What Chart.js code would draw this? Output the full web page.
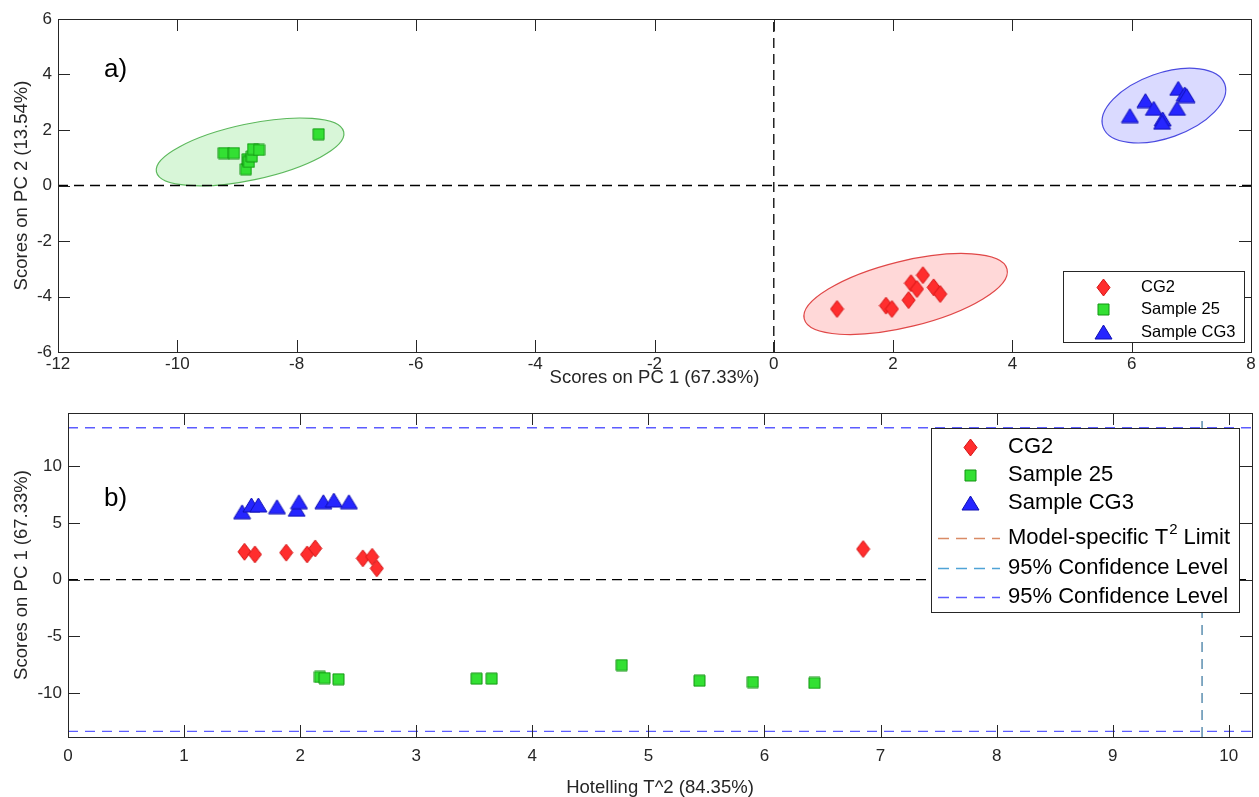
<!DOCTYPE html>
<html>
<head>
<meta charset="utf-8">
<script src="https://cdn.jsdelivr.net/npm/chart.js@4.4.0/dist/chart.umd.min.js"></script>
<style>
  body { margin: 0; background: #fff; width: 1259px; height: 797px; overflow: hidden; position: relative; }
  canvas { position: absolute; left: 0; }
  #scores-chart { top: 0; }
  #hotelling-chart { top: 392px; }
  .tag { position: absolute; font-family: "Liberation Sans", Arial, sans-serif; font-size: 26px; color: #000; line-height: 30px; }
</style>
</head>
<body>
<canvas id="scores-chart" width="1259" height="392"></canvas>
<canvas id="hotelling-chart" width="1259" height="405"></canvas>
<div class="tag" style="left:104px;top:53px">a)</div>
<div class="tag" style="left:104px;top:482px">b)</div>
<script>
// Panel a: scores on PC1 / PC2
var cg2PC1 = [1.06, 1.88, 1.98, 2.26, 2.30, 2.40, 2.50, 2.68, 2.79];
var cg2PC2 = [-4.45, -4.33, -4.45, -4.13, -3.52, -3.73, -3.23, -3.67, -3.91];
var s25PC1 = [-9.22, -9.05, -8.85, -8.82, -8.80, -8.75, -8.73, -8.63, -7.63];
var s25PC2 = [1.17, 1.17, 0.59, 0.95, 0.85, 1.05, 1.31, 1.28, 1.85];
var cg3PC1 = [5.97, 6.23, 6.37, 6.52, 6.51, 6.76, 6.78, 6.89, 6.92];
var cg3PC2 = [2.52, 3.06, 2.78, 2.40, 2.28, 2.78, 3.50, 3.30, 3.24];

// confidence ellipses (centre, half axis vectors in data units): CG2, Sample 25, CG3
var ellipseCentres = [[2.21, -3.91], [-8.78, 1.21], [6.54, 2.88]];
var ellipseMajor = [[1.70, 0.90], [1.57, 0.72], [1.02, 0.775]];
var ellipseMinor = [[-0.133, 1.15], [-0.098, 0.987], [-0.181, 1.10]];

// Panel b: Hotelling T^2 vs scores on PC1
var cg2T2 = [1.52, 1.61, 1.88, 2.06, 2.13, 2.54, 2.62, 2.66, 6.85];
var cg2Score = [2.45, 2.22, 2.37, 2.22, 2.75, 1.87, 2.01, 0.99, 2.69];
var s25T2 = [2.17, 2.21, 2.33, 3.52, 3.65, 4.77, 5.44, 5.90, 6.43];
var s25Score = [-8.6, -8.7, -8.8, -8.75, -8.75, -7.55, -8.93, -9.05, -9.13];
var cg3T2 = [1.50, 1.58, 1.64, 1.80, 1.97, 1.99, 2.20, 2.29, 2.42];
var cg3Score = [5.98, 6.58, 6.58, 6.43, 6.20, 6.87, 6.87, 7.02, 6.87];
var t2Limit = 9.77;
var confLevel = 13.4;

// axes
var pc1Range = [-12, 8];
var pc2Range = [-6, 6];
var t2Range = [0, 10.2];
var scoreRange = [-13.9, 14.7];
var pc1Ticks = [-12, -10, -8, -6, -4, -2, 0, 2, 4, 6, 8];
var pc2Ticks = [-6, -4, -2, 0, 2, 4, 6];
var t2Ticks = [0, 1, 2, 3, 4, 5, 6, 7, 8, 9, 10];
var scoreTicks = [-10, -5, 0, 5, 10];

var FONT = '"Liberation Sans", Arial, sans-serif';
var AXIS = '#262626';

function makeMarker(shape, w, h, fill, edge) {
  var c = document.createElement('canvas');
  c.width = w + 2;
  c.height = h + 2;
  var g = c.getContext('2d');
  var cx = c.width / 2, cy = c.height / 2;
  g.beginPath();
  if (shape === 'diamond') {
    g.moveTo(cx, 1); g.lineTo(c.width - 1, cy); g.lineTo(cx, c.height - 1); g.lineTo(1, cy);
  } else if (shape === 'square') {
    g.rect(1, 1, w, h);
  } else {
    g.moveTo(cx, 1); g.lineTo(c.width - 1, c.height - 1); g.lineTo(1, c.height - 1);
  }
  g.closePath();
  g.fillStyle = fill;
  g.fill();
  g.lineWidth = 1;
  g.strokeStyle = edge;
  g.stroke();
  return c;
}

var diamond = makeMarker('diamond', 13, 17, '#ff2e2e', '#d41414');
var square = makeMarker('square', 11, 11, '#33e033', '#139513');
var triangle = makeMarker('triangle', 17, 14, '#2626ff', '#1010b4');

function points(xs, ys) {
  return xs.map(function (x, i) { return {x: x, y: ys[i]}; });
}

function group(label, xs, ys, marker) {
  return {label: label, data: points(xs, ys), pointStyle: marker, pointRadius: 6, pointHoverRadius: 6,
    showLine: false, order: 0};
}

function refLine(label, a, b, color, dash, order) {
  return {label: label, data: [a, b], showLine: true, borderColor: color, borderWidth: 1.3,
    borderDash: dash || [10, 6], pointRadius: 0, pointHoverRadius: 0, fill: false, order: order || 1};
}

// draws the box round the axes with inward ticks on all four sides
var framePlugin = {
  id: 'frame',
  afterDatasetsDraw: function (chart) {
    var ctx = chart.ctx, a = chart.chartArea;
    var xs = chart.scales.x, ys = chart.scales.y, tl = 12;
    ctx.save();
    ctx.strokeStyle = AXIS;
    ctx.lineWidth = 1;
    ctx.beginPath();
    xs.ticks.forEach(function (t) {
      var px = Math.round(xs.getPixelForValue(t.value)) + 0.5;
      ctx.moveTo(px, a.bottom); ctx.lineTo(px, a.bottom - tl);
      ctx.moveTo(px, a.top); ctx.lineTo(px, a.top + tl);
    });
    ys.ticks.forEach(function (t) {
      var py = Math.round(ys.getPixelForValue(t.value)) + 0.5;
      ctx.moveTo(a.left, py); ctx.lineTo(a.left + tl, py);
      ctx.moveTo(a.right, py); ctx.lineTo(a.right - tl, py);
    });
    ctx.stroke();
    ctx.strokeRect(Math.round(a.left) + 0.5, Math.round(a.top) + 0.5, Math.round(a.right - a.left), Math.round(a.bottom - a.top));
    ctx.restore();
  }
};

var ellipsePlugin = {
  id: 'ellipses',
  beforeDatasetsDraw: function (chart, args, opts) {
    if (!opts.items) return;
    var ctx = chart.ctx, xs = chart.scales.x, ys = chart.scales.y;
    opts.items.forEach(function (e) {
      var cx = xs.getPixelForValue(e.centre[0]), cy = ys.getPixelForValue(e.centre[1]);
      var ax = xs.getPixelForValue(e.centre[0] + e.major[0]) - cx;
      var ay = ys.getPixelForValue(e.centre[1] + e.major[1]) - cy;
      var bx = xs.getPixelForValue(e.centre[0] + e.minor[0]) - cx;
      var by = ys.getPixelForValue(e.centre[1] + e.minor[1]) - cy;
      ctx.save();
      ctx.beginPath();
      ctx.save();
      ctx.transform(ax, ay, bx, by, cx, cy);
      ctx.arc(0, 0, 1, 0, Math.PI * 2);
      ctx.restore();
      ctx.fillStyle = e.fill;
      ctx.fill();
      ctx.lineWidth = 1.2;
      ctx.strokeStyle = e.edge;
      ctx.stroke();
      ctx.restore();
    });
  }
};

// matlab style legend box inside the axes
var boxLegendPlugin = {
  id: 'boxLegend',
  afterDraw: function (chart, args, o) {
    if (!o.rows) return;
    var ctx = chart.ctx;
    ctx.save();
    ctx.fillStyle = '#fff';
    ctx.fillRect(o.left, o.top, o.width, o.height);
    ctx.strokeStyle = AXIS;
    ctx.lineWidth = 1;
    ctx.strokeRect(o.left + 0.5, o.top + 0.5, o.width, o.height);
    ctx.textBaseline = 'middle';
    var row = 0;
    chart.data.datasets.forEach(function (ds) {
      if (!ds.label) return;
      var y = o.top + o.rows[row++];
      if (ds.showLine) {
        ctx.beginPath();
        ctx.setLineDash([11, 7]);
        ctx.strokeStyle = ds.borderColor;
        ctx.lineWidth = 1.3;
        ctx.moveTo(o.lineX[0], y + 0.5);
        ctx.lineTo(o.lineX[1], y + 0.5);
        ctx.stroke();
        ctx.setLineDash([]);
      } else {
        var m = ds.pointStyle;
        ctx.drawImage(m, Math.round(o.markerX - m.width / 2), Math.round(y - m.height / 2));
      }
      ctx.fillStyle = '#000';
      var parts = ds.label.split('\u00b2');
      var x = o.textX;
      ctx.font = o.fontSize + 'px ' + FONT;
      ctx.textAlign = 'left';
      ctx.fillText(parts[0], x, y);
      if (parts.length > 1) {
        x += ctx.measureText(parts[0]).width;
        ctx.font = Math.round(o.fontSize * 0.7) + 'px ' + FONT;
        ctx.fillText('2', x + 1, y - o.fontSize * 0.38);
        x += ctx.measureText('2').width + 1;
        ctx.font = o.fontSize + 'px ' + FONT;
        ctx.fillText(parts[1], x, y);
      }
    });
    ctx.restore();
  }
};

function axis(range, tickValues, title, fit, tickPad, titlePad) {
  return {
    type: 'linear',
    min: range[0],
    max: range[1],
    afterBuildTicks: function (s) { s.ticks = tickValues.map(function (v) { return {value: v}; }); },
    afterFit: fit,
    grid: {display: false, drawTicks: false},
    border: {display: false},
    ticks: {color: AXIS, font: {family: FONT, size: 17}, padding: tickPad, maxRotation: 0, autoSkip: false,
      callback: function (v) { return String(v); }},
    title: {display: true, text: title, color: AXIS, font: {family: FONT, size: 18.5}, padding: titlePad}
  };
}

var ctx = document.getElementById('scores-chart').getContext('2d');
var scoresChart = new Chart(ctx, {
  type: 'scatter',
  data: {
    datasets: [
      group('CG2', cg2PC1, cg2PC2, diamond),
      group('Sample 25', s25PC1, s25PC2, square),
      group('Sample CG3', cg3PC1, cg3PC2, triangle),
      refLine('', {x: pc1Range[0], y: 0}, {x: pc1Range[1], y: 0}, '#000'),
      refLine('', {x: 0, y: pc2Range[0]}, {x: 0, y: pc2Range[1]}, '#000')
    ]
  },
  plugins: [ellipsePlugin, framePlugin, boxLegendPlugin],
  options: {
    responsive: false,
    animation: false,
    events: [],
    layout: {padding: {top: 19, right: 8, left: 0, bottom: 0}},
    scales: {
      x: axis(pc1Range, pc1Ticks, 'Scores on PC 1 (67.33%)', function (s) { s.height = 40; }, 2, {top: 0, bottom: 3}),
      y: axis(pc2Range, pc2Ticks, 'Scores on PC 2 (13.54%)', function (s) { s.width = 58; }, 6, {top: 11, bottom: 0})
    },
    plugins: {
      legend: {display: false},
      tooltip: {enabled: false},
      ellipses: {
        items: [
          {centre: ellipseCentres[0], major: ellipseMajor[0], minor: ellipseMinor[0], fill: 'rgba(255, 60, 60, 0.2)', edge: '#e04848'},
          {centre: ellipseCentres[1], major: ellipseMajor[1], minor: ellipseMinor[1], fill: 'rgba(60, 210, 60, 0.2)', edge: '#5cb85c'},
          {centre: ellipseCentres[2], major: ellipseMajor[2], minor: ellipseMinor[2], fill: 'rgba(70, 70, 255, 0.2)', edge: '#4b4be0'}
        ]
      },
      boxLegend: {left: 1063, top: 271, width: 181, height: 71, rows: [16, 38, 61], markerX: 1103, textX: 1141,
        fontSize: 16.5}
    }
  }
});

var ctx = document.getElementById('hotelling-chart').getContext('2d');
var hotellingChart = new Chart(ctx, {
  type: 'scatter',
  data: {
    datasets: [
      group('CG2', cg2T2, cg2Score, diamond),
      group('Sample 25', s25T2, s25Score, square),
      group('Sample CG3', cg3T2, cg3Score, triangle),
      refLine('Model-specific T\u00b2 Limit', {x: t2Limit, y: scoreRange[0]}, {x: t2Limit, y: scoreRange[1]}, '#d98b66', [10, 7], 3),
      refLine('95% Confidence Level', {x: t2Limit, y: scoreRange[0]}, {x: t2Limit, y: scoreRange[1]}, '#4fa3d6', [10, 7], 2),
      refLine('95% Confidence Level', {x: t2Range[0], y: confLevel}, {x: t2Range[1], y: confLevel}, '#5c5cff', [10, 7]),
      refLine('', {x: t2Range[0], y: -confLevel}, {x: t2Range[1], y: -confLevel}, '#5c5cff', [10, 7]),
      refLine('', {x: t2Range[0], y: 0}, {x: t2Range[1], y: 0}, '#000'),
      refLine('', {x: 0, y: scoreRange[0]}, {x: 0, y: scoreRange[1]}, '#000')
    ]
  },
  plugins: [framePlugin, boxLegendPlugin],
  options: {
    responsive: false,
    animation: false,
    events: [],
    layout: {padding: {top: 21, right: 7, left: 0, bottom: 0}},
    scales: {
      x: axis(t2Range, t2Ticks, 'Hotelling T^2 (84.35%)', function (s) { s.height = 60; }, 9, {top: 0, bottom: -2}),
      y: axis(scoreRange, scoreTicks, 'Scores on PC 1 (67.33%)', function (s) { s.width = 68; }, 6, {top: 11, bottom: 0})
    },
    plugins: {
      legend: {display: false},
      tooltip: {enabled: false},
      boxLegend: {left: 931, top: 36, width: 308, height: 184, rows: [19, 47, 75, 110, 140, 169],
        markerX: 970, lineX: [938, 1000], textX: 1008, fontSize: 22}
    }
  }
});
</script>
</body>
</html>
